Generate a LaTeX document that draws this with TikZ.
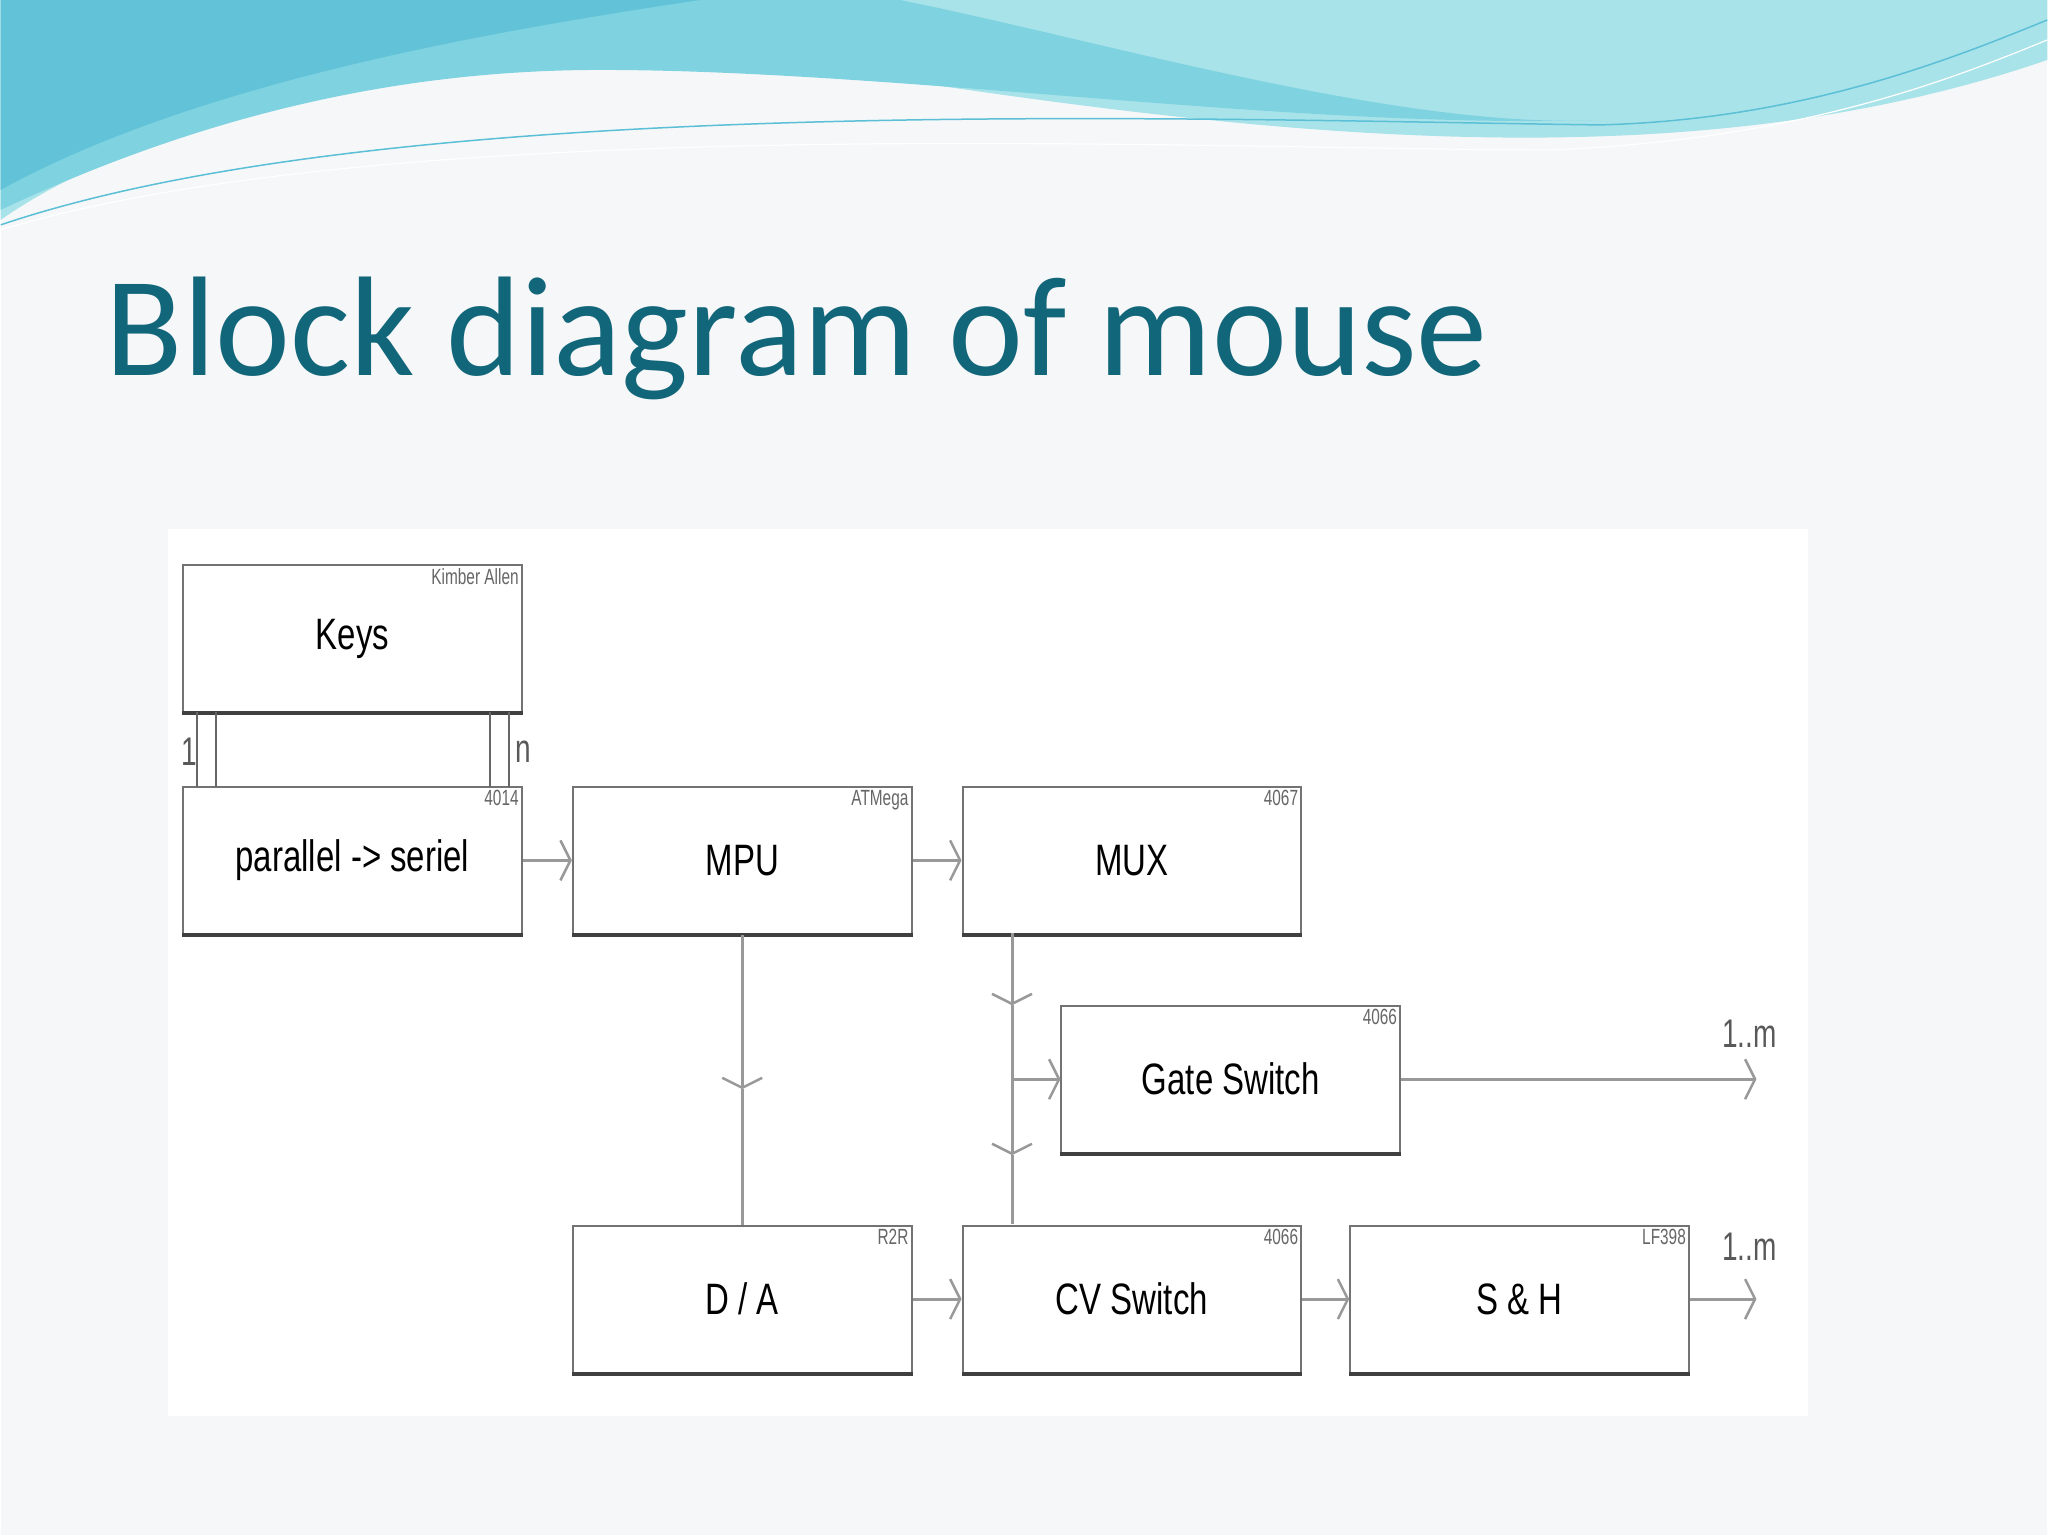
\documentclass[tikz,border=0pt]{standalone}
\usepackage{fontspec}
\setmainfont{Liberation Sans}
\newfontfamily\titlefont{Carlito}
\usetikzlibrary{arrows.meta}
\definecolor{titlec}{HTML}{12667A}
\definecolor{bgc}{HTML}{F6F7F9}
\definecolor{wave1}{HTML}{7FD3E0}
\definecolor{wave2}{HTML}{A9E3EA}
\definecolor{wave3}{HTML}{5BBFD6}
\tikzset{
  blk/.style={draw=black!55,line width=2pt,fill=white,minimum width=339pt,minimum height=147pt,inner sep=0pt,
    font=\fontsize{44}{44}\selectfont},
  tag/.style={font=\fontsize{22}{22}\selectfont,text=black!60,anchor=north east,inner sep=4pt},
  wire/.style={draw=black!40,line width=3pt},
  arr/.style={wire,-{Straight Barb[length=10pt,width=40pt,line width=2.5pt]}},
  lbl/.style={font=\fontsize{40}{40}\selectfont,text=black!65},
}
\begin{document}
\begin{tikzpicture}[x=1pt,y=-1pt]
\fill[bgc] (0,0) rectangle (2048,1536);
% waves
\fill[wave2] (0,0) -- (2048,0) -- (2048,60) .. controls (1700,180) and (1300,140) .. (900,80) .. controls (600,40) and (200,80) .. (0,220) -- cycle;
\fill[wave1] (0,0) -- (900,0) .. controls (1100,40) and (1400,130) .. (1600,120) .. controls (1300,130) and (900,70) .. (600,70) .. controls (350,70) and (150,140) .. (0,210) -- cycle;
\fill[wave3!80!wave1] (0,0) -- (700,0) .. controls (500,30) and (200,80) .. (0,190) -- cycle;
\draw[wave3,line width=1.5pt] (0,225) .. controls (400,90) and (1200,120) .. (1600,125) .. controls (1800,120) and (1950,60) .. (2048,20);
\draw[white,line width=1.2pt] (0,230) .. controls (400,110) and (1200,150) .. (1550,150) .. controls (1800,140) and (1950,80) .. (2048,40);
% title
\node[anchor=base west,inner sep=0pt,text=titlec,font=\titlefont\fontsize{142}{142}\selectfont] (title) at (105,376) {Block diagram of mouse};
% panel
\fill[white] (167,529) rectangle (1809,1417);
% blocks
\node[blk] (keys) at (352,639) {\scalebox{0.75}[1]{Keys}};
\node[blk] (ps) at (352,861) {\scalebox{0.75}[1]{parallel -> seriel}};
\node[blk] (mpu) at (742,861) {\scalebox{0.75}[1]{MPU}};
\node[blk] (mux) at (1132,861) {\scalebox{0.75}[1]{MUX}};
\node[blk] (gate) at (1231,1080) {\scalebox{0.75}[1]{Gate Switch}};
\node[blk] (da) at (742,1300) {\scalebox{0.75}[1]{D / A}};
\node[blk] (cv) at (1132,1300) {\scalebox{0.75}[1]{CV Switch}};
\node[blk] (sh) at (1520,1300) {\scalebox{0.75}[1]{S \& H}};
\foreach \n in {keys,ps,mpu,mux,gate,da,cv,sh}
  \draw[black!75,line width=4pt] (\n.south west) -- (\n.south east);
\node[tag] (tk) at (keys.north east) {\scalebox{0.7}[1]{Kimber Allen}};
\node[tag] (tp) at (ps.north east) {\scalebox{0.7}[1]{4014}};
\node[tag] (tm) at (mpu.north east) {\scalebox{0.7}[1]{ATMega}};
\node[tag] (tx) at (mux.north east) {\scalebox{0.7}[1]{4067}};
\node[tag] (tg) at (gate.north east) {\scalebox{0.7}[1]{4066}};
\node[tag] (td) at (da.north east) {\scalebox{0.7}[1]{R2R}};
\node[tag] (tc) at (cv.north east) {\scalebox{0.7}[1]{4066}};
\node[tag] (ts) at (sh.north east) {\scalebox{0.7}[1]{LF398}};
% key pins
\foreach \xx in {196,215,490,509}
  \draw[black!60,line width=2pt] (\xx,713) -- (\xx,788);
\node[lbl] (l1) at (189,752) {\scalebox{0.7}[1]{1}};
\node[lbl] (ln) at (523,752) {\scalebox{0.7}[1]{n}};
% arrows
\draw[arr] (ps.east) -- (mpu.west);
\draw[arr] (mpu.east) -- (mux.west);
\draw[arr] (da.east) -- (cv.west);
\draw[arr] (cv.east) -- (sh.west);
\coordinate (mdown) at (742,1090);
\draw[arr] (mpu.south) -- (mdown);
\draw[wire] (mdown) -- (da.north);
\coordinate (xtop) at (1012,934);
\coordinate (xa) at (1012,1006);
\coordinate (xb) at (1012,1080);
\coordinate (xc) at (1012,1156);
\coordinate (xd) at (1012,1225);
\draw[arr] (xtop) -- (xa);
\draw[wire] (xa) -- (xb);
\draw[arr] (xb) -- (xc);
\draw[wire] (xc) -- (xd);
\draw[arr] (xb) -- (gate.west);
\coordinate (gout) at (1757,1080);
\coordinate (sout) at (1757,1300);
\draw[arr] (gate.east) -- (gout);
\draw[arr] (sh.east) -- (sout);
\node[lbl] (m1) at (1750,1034) {\scalebox{0.7}[1]{1..m}};
\node[lbl] (m2) at (1750,1248) {\scalebox{0.7}[1]{1..m}};
\end{tikzpicture}
\end{document}
